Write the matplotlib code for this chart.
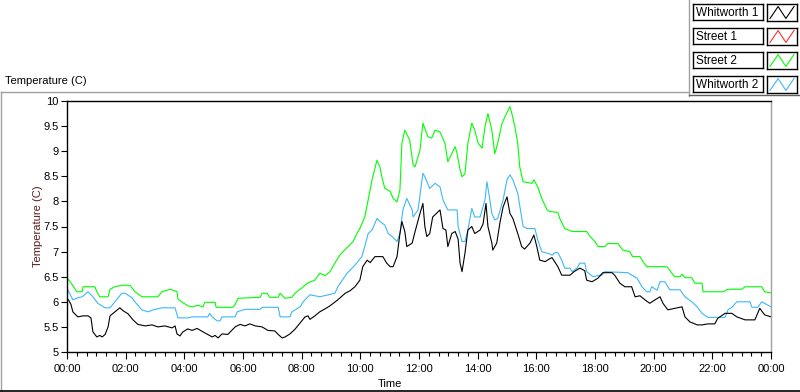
import matplotlib
matplotlib.use("Agg")
import matplotlib.pyplot as plt
from matplotlib.lines import Line2D

plt.rcParams['font.family'] = ['Liberation Sans', 'DejaVu Sans']

# Data (minutes after midnight, temperature in C)
green_t = [0, 10, 20, 31, 33, 57, 61, 67, 84, 88, 98, 112, 129, 139, 153, 186, 194, 211, 225, 227,
           247, 256, 268, 278, 282, 303, 305, 339, 344, 350, 395, 399, 409, 415, 432, 436, 446, 460,
           466, 481, 493, 507, 517, 528, 538, 548, 558, 575, 585, 593, 599, 609, 616, 624, 634, 640,
           644, 650, 661, 667, 675, 681, 685, 691, 701, 708, 712, 722, 728, 738, 746, 753, 763, 773,
           779, 787, 794, 798, 804, 808, 814, 820, 828, 834, 841, 849, 855, 861, 869, 875, 881, 890,
           896, 906, 910, 916, 922, 926, 933, 951, 955, 963, 971, 982, 988, 1004, 1008, 1018, 1033,
           1063, 1070, 1080, 1086, 1100, 1106, 1127, 1137, 1151, 1157, 1172, 1178, 1186, 1227, 1243,
           1254, 1258, 1264, 1278, 1284, 1299, 1301, 1342, 1352, 1380, 1387, 1421, 1427, 1440]
green_v = [6.48, 6.35, 6.20, 6.20, 6.30, 6.30, 6.20, 6.10, 6.10, 6.25, 6.30, 6.33, 6.33, 6.20, 6.10,
           6.10, 6.20, 6.25, 6.20, 6.05, 5.92, 5.90, 5.93, 5.90, 5.99, 5.99, 5.89, 5.89, 5.95, 6.07,
           6.09, 6.17, 6.17, 6.09, 6.09, 6.17, 6.07, 6.09, 6.17, 6.28, 6.38, 6.43, 6.57, 6.52, 6.60,
           6.77, 6.93, 7.10, 7.20, 7.36, 7.46, 7.69, 8.03, 8.43, 8.82, 8.69, 8.49, 8.26, 8.20, 8.06,
           7.99, 8.23, 9.16, 9.42, 9.22, 8.72, 8.69, 9.02, 9.56, 9.29, 9.26, 9.42, 9.38, 9.16, 8.79,
           8.95, 9.09, 8.95, 8.63, 8.49, 8.55, 9.16, 9.56, 9.42, 9.16, 9.06, 9.49, 9.75, 9.42, 8.95,
           9.16, 9.56, 9.69, 9.89, 9.75, 9.49, 9.16, 8.69, 8.39, 8.36, 8.43, 8.29, 8.06, 7.83, 7.80,
           7.78, 7.66, 7.46, 7.40, 7.40, 7.30, 7.20, 7.10, 7.10, 7.16, 7.16, 7.03, 7.00, 6.90, 6.90,
           6.80, 6.70, 6.70, 6.50, 6.50, 6.55, 6.48, 6.48, 6.37, 6.37, 6.20, 6.20, 6.25, 6.25, 6.30,
           6.30, 6.20, 6.18]

blue_t = [0, 12, 22, 31, 43, 53, 63, 78, 88, 98, 112, 119, 133, 139, 153, 166, 176, 194, 221, 227,
          247, 256, 288, 292, 297, 307, 313, 317, 344, 348, 364, 395, 399, 432, 436, 456, 460, 477,
          483, 497, 517, 548, 554, 573, 589, 603, 609, 616, 624, 634, 640, 650, 657, 665, 675, 681,
          687, 695, 706, 708, 718, 728, 732, 742, 753, 763, 769, 779, 798, 800, 808, 814, 820, 828,
          834, 845, 849, 855, 859, 865, 869, 875, 881, 892, 900, 906, 912, 922, 933, 941, 957, 963,
          971, 988, 992, 998, 1004, 1012, 1018, 1029, 1033, 1043, 1049, 1059, 1063, 1076, 1090, 1094,
          1100, 1147, 1166, 1176, 1186, 1192, 1196, 1207, 1213, 1223, 1233, 1254, 1264, 1278, 1289,
          1299, 1311, 1346, 1352, 1360, 1370, 1397, 1401, 1413, 1421, 1440]
blue_v = [6.27, 6.04, 6.08, 6.10, 6.20, 6.10, 5.97, 5.88, 5.88, 6.00, 6.17, 6.17, 6.08, 6.00, 5.84,
          5.80, 5.84, 5.88, 5.88, 5.68, 5.68, 5.70, 5.70, 5.77, 5.70, 5.62, 5.62, 5.70, 5.70, 5.80,
          5.85, 5.85, 5.89, 5.89, 5.70, 5.70, 5.80, 5.90, 6.00, 6.14, 6.10, 6.17, 6.30, 6.57, 6.73,
          6.90, 7.10, 7.36, 7.43, 7.66, 7.60, 7.53, 7.36, 7.30, 7.20, 7.36, 7.83, 8.06, 7.83, 7.69,
          7.83, 8.56, 8.49, 8.26, 8.36, 8.29, 8.03, 7.83, 7.83, 7.50, 7.20, 7.20, 7.43, 7.86, 7.69,
          7.69, 7.83, 8.03, 8.39, 8.03, 7.76, 7.63, 7.66, 8.03, 8.43, 8.53, 8.43, 8.16, 7.50, 7.46,
          7.46, 7.23, 7.00, 6.95, 6.93, 6.98, 6.98, 6.83, 6.67, 6.67, 6.60, 6.67, 6.77, 6.77, 6.60,
          6.50, 6.53, 6.53, 6.60, 6.58, 6.47, 6.30, 6.20, 6.20, 6.30, 6.23, 6.40, 6.40, 6.24, 6.24,
          6.10, 6.00, 5.90, 5.77, 5.69, 5.69, 5.84, 5.89, 6.00, 6.00, 5.89, 5.89, 6.00, 5.90]

black_t = [0, 4, 8, 12, 22, 33, 43, 49, 53, 61, 67, 72, 78, 84, 88, 98, 108, 115, 125, 135, 145,
           160, 174, 186, 200, 215, 221, 225, 231, 237, 247, 256, 266, 282, 297, 303, 309, 317, 329,
           337, 344, 354, 364, 374, 385, 399, 411, 425, 432, 440, 446, 456, 466, 477, 487, 493, 497,
           507, 517, 528, 538, 554, 569, 579, 589, 599, 605, 614, 620, 630, 646, 654, 661, 667, 675,
           681, 685, 691, 695, 706, 712, 722, 728, 732, 736, 742, 748, 763, 769, 775, 779, 787, 794,
           800, 804, 808, 814, 820, 828, 834, 845, 851, 857, 861, 869, 871, 879, 886, 892, 900, 906,
           912, 922, 930, 936, 947, 955, 961, 967, 978, 986, 992, 1004, 1012, 1029, 1037, 1049, 1059,
           1063, 1074, 1086, 1096, 1115, 1121, 1131, 1141, 1155, 1162, 1172, 1182, 1192, 1203, 1213,
           1219, 1229, 1243, 1258, 1264, 1274, 1289, 1299, 1311, 1325, 1331, 1346, 1360, 1370, 1387,
           1407, 1417, 1427, 1440]
black_v = [6.07, 6.02, 5.95, 5.80, 5.70, 5.72, 5.72, 5.68, 5.40, 5.30, 5.33, 5.30, 5.35, 5.50, 5.72,
           5.80, 5.88, 5.82, 5.76, 5.64, 5.55, 5.52, 5.54, 5.50, 5.52, 5.48, 5.52, 5.36, 5.32, 5.40,
           5.46, 5.43, 5.47, 5.38, 5.30, 5.33, 5.28, 5.36, 5.35, 5.43, 5.50, 5.55, 5.52, 5.56, 5.52,
           5.50, 5.43, 5.42, 5.35, 5.28, 5.30, 5.36, 5.45, 5.58, 5.70, 5.72, 5.65, 5.72, 5.80, 5.86,
           5.92, 6.04, 6.17, 6.22, 6.30, 6.43, 6.70, 6.83, 6.78, 6.90, 6.90, 6.77, 6.70, 6.70, 6.90,
           7.36, 7.60, 7.40, 7.10, 7.17, 7.40, 7.76, 7.96, 7.50, 7.30, 7.36, 7.69, 7.83, 7.46, 7.43,
           7.10, 7.36, 7.40, 7.25, 6.77, 6.60, 6.97, 7.43, 7.50, 7.36, 7.43, 7.55, 7.96, 7.50, 7.17,
           7.03, 7.17, 7.60, 7.89, 8.09, 7.76, 7.66, 7.36, 7.10, 7.05, 7.17, 7.33, 7.10, 6.83, 6.80,
           6.85, 6.88, 6.70, 6.53, 6.53, 6.60, 6.67, 6.62, 6.43, 6.40, 6.47, 6.58, 6.58, 6.52, 6.37,
           6.30, 6.30, 6.10, 6.12, 6.04, 5.97, 6.04, 6.10, 5.97, 5.84, 5.87, 5.90, 5.70, 5.60, 5.54,
           5.54, 5.56, 5.56, 5.67, 5.77, 5.77, 5.70, 5.64, 5.64, 5.87, 5.74, 5.70]

legend_names = ["Whitworth 1", "Street 1", "Street 2", "Whitworth 2"]
legend_colors = ["#000000", "#ff3030", "#00ff00", "#3cb8f8"]

hour_ticks = list(range(0, 1441, 120))
hour_labels = ["%02d:00" % ((m // 60) % 24) for m in hour_ticks]
y_ticks = [5 + 0.5 * i for i in range(11)]
y_labels = ["%g" % v for v in y_ticks]

W, H = 800, 392
fs = 8
fig = plt.figure(figsize=(8, 3.92), dpi=100)

# plot area
ax = fig.add_axes([67 / W, 1 - 352 / H, 704 / W, 251 / H])
ax.plot(green_t, green_v, color=legend_colors[2], lw=0.8)
ax.plot(blue_t, blue_v, color=legend_colors[3], lw=0.8)
ax.plot(black_t, black_v, color=legend_colors[0], lw=0.8)

ax.set_xlim(0, 1440)
ax.set_ylim(5, 10)
ax.set_xticks(hour_ticks)
ax.set_xticklabels(hour_labels, fontsize=fs)
ax.set_xticks(list(range(0, 1441, 20)), minor=True)
ax.set_yticks(y_ticks)
ax.set_yticklabels(y_labels, fontsize=fs)
ax.tick_params(axis="x", which="major", length=5, width=0.8, pad=4)
ax.tick_params(axis="x", which="minor", length=3, width=0.8)
ax.tick_params(axis="y", which="major", length=4, width=0.8, pad=2)
for s in ["left", "top", "bottom"]:
    ax.spines[s].set_color("black")
    ax.spines[s].set_linewidth(1)
ax.spines["right"].set_color("#a0a0a0")
ax.spines["right"].set_linewidth(1)

fig.text(38 / W, 1 - 226 / H, "Temperature (C)", rotation=90, ha="center", va="center",
         fontsize=fs, color="#5a1a1a")
fig.text(390 / W, 1 - 384 / H, "Time", ha="center", va="center", fontsize=fs)
fig.text(5 / W, 1 - 81 / H, "Temperature (C)", ha="left", va="center", fontsize=fs)

# frame lines of the graph panel
fig.add_artist(Line2D([1 / W, 689 / W], [1 - 92 / H, 1 - 92 / H], color="#a0a0a0", lw=1))
fig.add_artist(Line2D([1 / W, 1 / W], [1 - 92 / H, 1 - 391 / H], color="#a0a0a0", lw=1))
fig.add_artist(Line2D([0, 1], [1 - 391 / H, 1 - 391 / H], color="black", lw=1.2))
fig.add_artist(Line2D([689 / W, 689 / W], [1, 1 - 96 / H], color="#a0a0a0", lw=1))
fig.add_artist(Line2D([689 / W, 1], [1 - 95 / H, 1 - 95 / H], color="#606060", lw=1))

# legend boxes
row_top = [4, 28, 52, 76]
for i, name in enumerate(legend_names):
    top = row_top[i]
    lab = fig.add_axes([693 / W, 1 - (top + 16) / H, 70 / W, 16 / H])
    lab.set_xticks([])
    lab.set_yticks([])
    lab.text(0.04, 0.45, name, transform=lab.transAxes, ha="left", va="center", fontsize=8.5)
    sw = fig.add_axes([767 / W, 1 - (top + 17) / H, 30 / W, 17 / H])
    sw.plot([0.1, 0.37, 0.63, 0.9], [0.15, 0.85, 0.15, 0.85], color=legend_colors[i], lw=0.8)
    sw.set_xlim(0, 1)
    sw.set_ylim(0, 1)
    sw.set_xticks([])
    sw.set_yticks([])
    for a in (lab, sw):
        for s in a.spines.values():
            s.set_linewidth(1)
            s.set_color("black")

fig.savefig("out.png", dpi=100)
